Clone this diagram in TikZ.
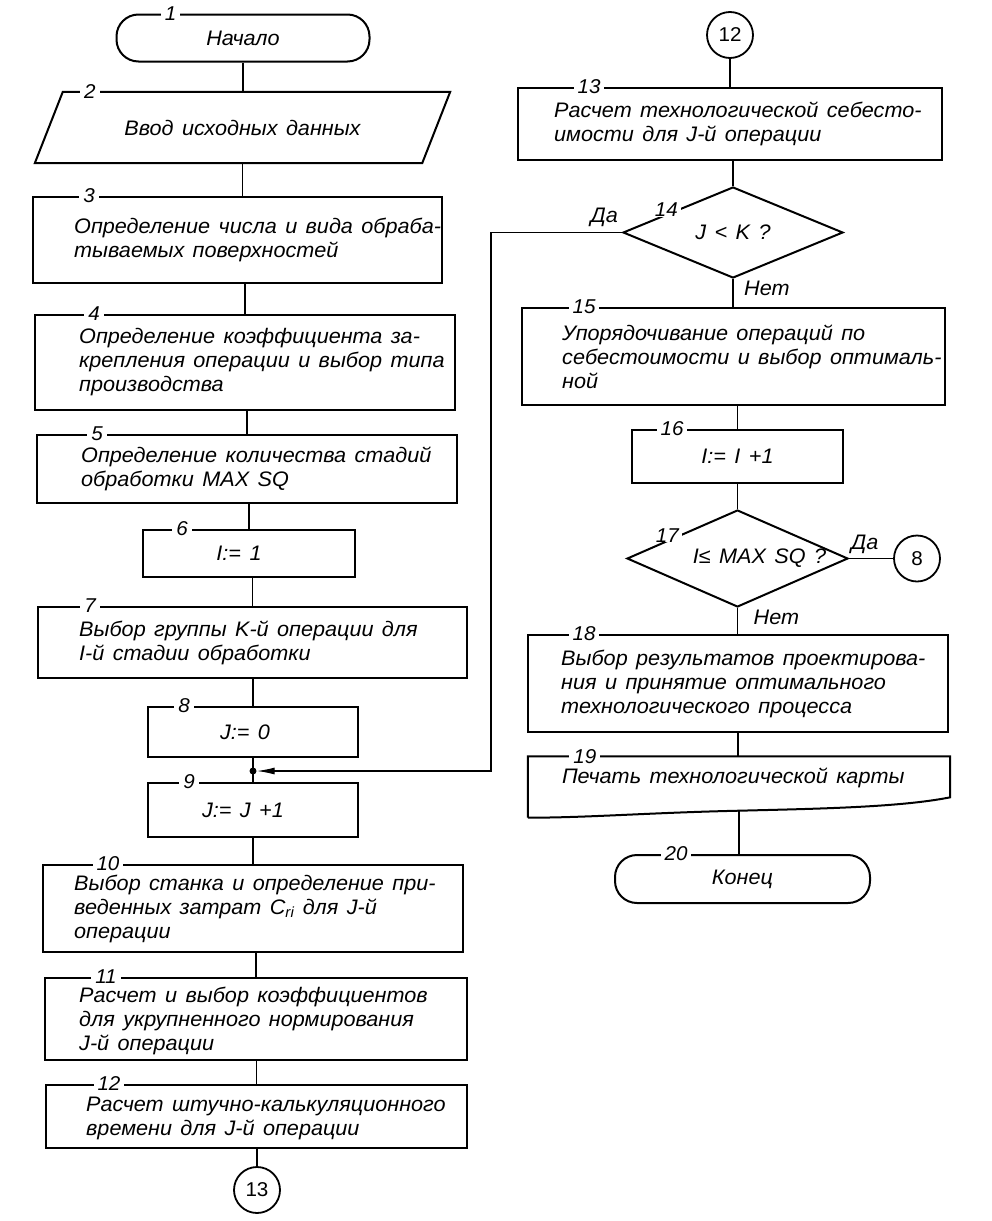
\documentclass[tikz,border=0pt]{standalone}
\usepackage{fontspec}
\setmainfont{Liberation Sans}[FakeStretch=1.03,WordSpace=1.4]
\usetikzlibrary{shapes.geometric,arrows.meta,calc}
\newcommand\diagfont{\fontsize{21}{24}\selectfont\itshape}
\begin{document}
\begin{tikzpicture}[x=1pt,y=-1pt,
  box/.style={draw, line width=2pt, rectangle, inner sep=0pt},
  term/.style={draw, line width=2pt, rectangle, rounded corners=22pt, inner sep=0pt, font=\diagfont},
  txt/.style={font=\diagfont, align=left, inner sep=0pt, anchor=west},
  ctxt/.style={font=\diagfont, inner sep=0pt},
  num/.style={fill=white, inner xsep=4pt, inner ysep=0pt, font=\fontsize{20}{22}\selectfont\itshape},
  conn/.style={line width=1.3pt},
  circ/.style={draw, circle, line width=1.8pt, minimum size=46pt, inner sep=0pt, font=\fontsize{20}{22}\selectfont},
  dia/.style={draw, diamond, line width=2pt, inner sep=0pt},
  lbl/.style={font=\diagfont, inner sep=2pt}
]
\useasboundingbox (0,0) rectangle (992,1221);

% ---------------- left column ----------------
\node[term, minimum width=253pt, minimum height=47pt] (n1) at (243,38) {Начало};
\node[num] (l1) at ([xshift=55pt]n1.north west) {1};

\node[inner sep=0pt, minimum width=415pt, minimum height=71pt, font=\diagfont] (n2) at (242.5,127.5) {Ввод исходных данных};
\draw[line width=2pt] ([xshift=28pt]n2.north west) -- (n2.north east) -- ([xshift=-28pt]n2.south east) -- (n2.south west) -- cycle;
\node[num] (l2) at ([xshift=55pt]n2.north west) {2};

\node[box, minimum width=409pt, minimum height=86pt] (n3) at (237.5,240) {};
\node[txt] (t3) at ([xshift=42pt]n3.west) {Определение числа и вида обраба-\\тываемых поверхностей};
\node[num] (l3) at ([xshift=57pt]n3.north west) {3};

\node[box, minimum width=420pt, minimum height=95pt] (n4) at (245,362.5) {};
\node[txt] (t4) at ([xshift=45pt]n4.west) {Определение коэффициента за-\\крепления операции и выбор типа\\производства};
\node[num] (l4) at ([xshift=60pt]n4.north west) {4};

\node[box, minimum width=420pt, minimum height=68pt] (n5) at (247,469) {};
\node[txt] (t5) at ([xshift=45pt]n5.west) {Определение количества стадий\\обработки MAX SQ};
\node[num] (l5) at ([xshift=61pt]n5.north west) {5};

\node[box, minimum width=212pt, minimum height=47pt] (n6) at (249,553.5) {};
\node[ctxt] (t6) at ([xshift=-10pt]n6.center) {I:= 1};
\node[num] (l6) at ([xshift=40pt]n6.north west) {6};

\node[box, minimum width=429pt, minimum height=71pt] (n7) at (252.5,642.5) {};
\node[txt] (t7) at ([xshift=42pt]n7.west) {Выбор группы K-й операции для\\I-й стадии обработки};
\node[num] (l7) at ([xshift=53pt]n7.north west) {7};

\node[box, minimum width=210pt, minimum height=50pt] (n8) at (253,732) {};
\node[ctxt] (t8) at ([xshift=-8pt]n8.center) {J:= 0};
\node[num] (l8) at ([xshift=37pt]n8.north west) {8};

\node[circle, fill, inner sep=0pt, minimum size=7pt] (jn) at (253,771) {};

\node[box, minimum width=210pt, minimum height=54pt] (n9) at (253,810) {};
\node[ctxt] (t9) at ([xshift=-10pt]n9.center) {J:= J +1};
\node[num] (l9) at ([xshift=42pt]n9.north west) {9};

\node[box, minimum width=420pt, minimum height=87pt] (n10) at (253,908.5) {};
\node[txt] (t10) at ([xshift=32pt]n10.west) {Выбор станка и определение при-\\веденных затрат C\textsubscript{ri} для J-й\\операции};
\node[num] (l10) at ([xshift=66pt]n10.north west) {10};

\node[box, minimum width=422pt, minimum height=82pt] (n11) at (256,1019) {};
\node[txt] (t11) at ([xshift=35pt,yshift=-2pt]n11.west) {Расчет и выбор коэффициентов\\для укрупненного нормирования\\J-й операции};
\node[num] (l11) at ([xshift=62pt]n11.north west) {11};

\node[box, minimum width=421pt, minimum height=63pt] (n12) at (256.5,1116.5) {};
\node[txt] (t12) at ([xshift=41pt,yshift=-2pt]n12.west) {Расчет штучно-калькуляционного\\времени для J-й операции};
\node[num] (l12) at ([xshift=64pt]n12.north west) {12};

\node[circ] (c13) at (257,1190) {13};

% ---------------- right column ----------------
\node[circ] (c12) at (730,35) {12};

\node[box, minimum width=424pt, minimum height=72pt] (n13) at (730,124) {};
\node[txt] (t13) at ([xshift=37pt]n13.west) {Расчет технологической себесто-\\имости для J-й операции};
\node[num] (l13) at ([xshift=72pt]n13.north west) {13};

\node[dia, minimum width=220pt, minimum height=91pt] (d14) at (733,232.5) {};
\node[ctxt] (t14) at (d14.center) {J < K ?};
\node[num, inner xsep=3pt] (l14) at ([yshift=4pt]$(d14.west)!0.4!(d14.north)$) {14};

\node[box, minimum width=423pt, minimum height=97pt] (n15) at (733.5,356.5) {};
\node[txt] (t15) at ([xshift=41pt]n15.west) {Упорядочивание операций по\\себестоимости и выбор оптималь-\\ной};
\node[num] (l15) at ([xshift=63pt]n15.north west) {15};

\node[box, minimum width=211pt, minimum height=53pt] (n16) at (737.5,456.5) {};
\node[ctxt] (t16) at (n16.center) {I:= I +1};
\node[num] (l16) at ([xshift=41pt]n16.north west) {16};

\node[dia, minimum width=221pt, minimum height=97pt] (d17) at (737.5,558.5) {};
\node[ctxt] (t17) at ([xshift=22pt]d17.center) {I≤ MAX SQ ?};
\node[num, inner xsep=3pt] (l17) at ([yshift=5pt]$(d17.west)!0.37!(d17.north)$) {17};

\node[circ] (c8) at (917,558.5) {8};

\node[box, minimum width=420pt, minimum height=97pt] (n18) at (738,683.5) {};
\node[txt] (t18) at ([xshift=34pt]n18.west) {Выбор результатов проектирова-\\ния и принятие оптимального\\технологического процесса};
\node[num] (l18) at ([xshift=57pt]n18.north west) {18};

\node[inner sep=0pt, minimum width=422pt, minimum height=61pt] (n19) at (739,787) {};
\coordinate (w19) at ([yshift=7pt]n19.south);
\draw[line width=2pt] (n19.south west) -- (n19.north west) -- (n19.north east) -- ([yshift=-41pt]n19.north east)
  .. controls +(-50,10) and +(80,-2) .. (w19) .. controls +(-90,2) and +(60,0) .. (n19.south west);
\node[txt] (t19) at ([xshift=34pt,yshift=9pt]n19.west) {Печать технологической карты};
\node[num] (l19) at ([xshift=57pt]n19.north west) {19};

\node[term, minimum width=255pt, minimum height=48pt] (n20) at (742.5,879) {Конец};
\node[num] (l20) at ([xshift=62pt]n20.north west) {20};

% ---------------- connectors ----------------
\draw[conn] (n1.south) -- (n1.south |- n2.north);
\draw[conn] (n2.south) -- (n2.south |- n3.north);
\draw[conn] (n4.north |- n3.south) -- (n4.north);
\draw[conn] (n5.north |- n4.south) -- (n5.north);
\draw[conn] (n6.north |- n5.south) -- (n6.north);
\draw[conn] (n7.north |- n6.south) -- (n7.north);
\draw[conn] (n8.north |- n7.south) -- (n8.north);
\draw[conn] (n8.south) -- (n9.north);
\draw[conn] (n9.south) -- (n10.north);
\draw[conn] (n11.north |- n10.south) -- (n11.north);
\draw[conn] (n12.north |- n11.south) -- (n12.north);
\draw[conn] (c13.north |- n12.south) -- (c13.north);

\draw[conn] (c12.south) -- (c12.south |- n13.north);
\draw[conn] (d14.north |- n13.south) -- (d14.north);
\draw[conn] (d14.south) -- (d14.south |- n15.north);
\draw[conn] (n16.north |- n15.south) -- (n16.north);
\draw[conn] (d17.north |- n16.south) -- (d17.north);
\draw[conn] (d17.south) -- (d17.south |- n18.north);
\draw[conn] (d17.east) -- (c8.west);
\draw[conn] (n18.south) -- (n18.south |- n19.north);
\draw[conn] (w19) -- (w19 |- n20.north);

\draw[conn, -{Latex[length=18pt,width=7pt]}] (d14.west) -- ++(-131,0) |- (jn);

% branch labels
\node[lbl, anchor=south east] (da14) at ([xshift=-2pt,yshift=4pt]d14.west) {Да};
\node[lbl, anchor=north west] (net14) at ([xshift=9pt]d14.south) {Нет};
\node[lbl, anchor=south west] (da17) at ([yshift=3pt]d17.east) {Да};
\node[lbl, anchor=north west] (net17) at ([xshift=14pt]d17.south) {Нет};
\end{tikzpicture}
\end{document}
